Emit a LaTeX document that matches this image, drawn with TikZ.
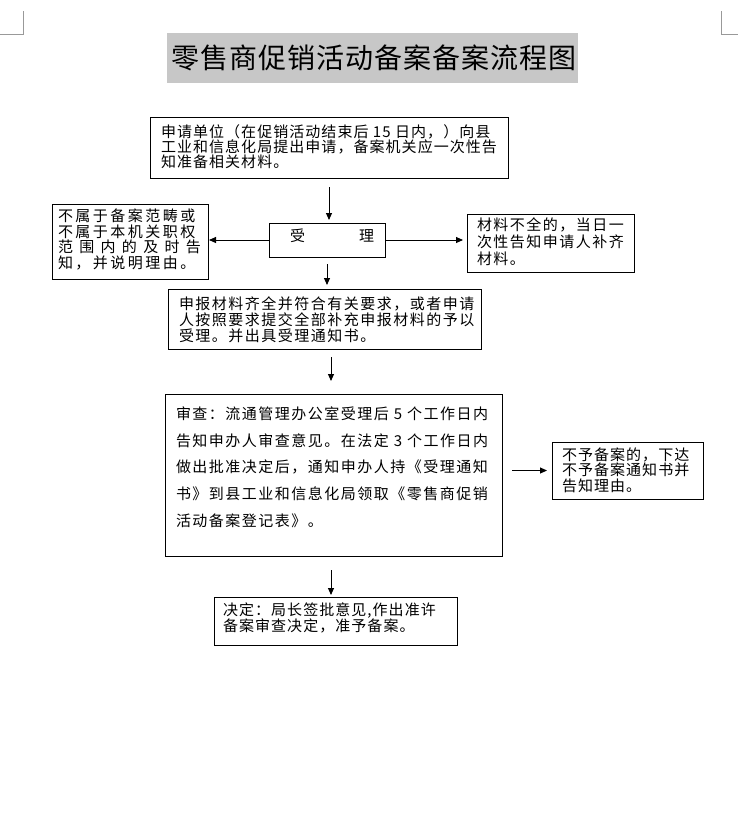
\documentclass[tikz,border=0pt]{standalone}
\usepackage{fontspec}
\setmainfont{Noto Sans CJK SC}
\newfontfamily\fA[LetterSpace=7]{Noto Sans CJK SC}
\newfontfamily\fB[LetterSpace=10]{Noto Sans CJK SC}
\newfontfamily\fC[LetterSpace=16.5]{Noto Sans CJK SC}
\newfontfamily\fT[LetterSpace=3.5]{Noto Sans CJK SC}
\usetikzlibrary{arrows.meta,calc}
% width, height, pad left, pad top, line skip, font, content
\newcommand{\bt}[7]{\begin{minipage}[t][#2][t]{#1}\raggedright\leftskip=#3\relax\fontsize{15}{#5}#6\selectfont\vspace*{#4}#7\end{minipage}}
\tikzset{
  bx/.style={draw, line width=0.9pt, inner sep=0pt, outer sep=0pt, anchor=north west},
  arr/.style={line width=0.9pt, -{Triangle[length=7pt,width=6pt]}},
  crop/.style={draw=black!40, line width=1pt}
}
\begin{document}
\begin{tikzpicture}[x=1pt,y=-1pt]
\useasboundingbox (0,0) rectangle (738,833);
% crop marks
\draw[crop] (23,11) -- (23,34) -- (0,34);
\draw[crop] (721,11) -- (721,34) -- (738,34);
% title
\node[fill=black!22, minimum width=411pt, minimum height=50pt, inner sep=0pt, anchor=north west] (title) at (167,33)
  {\hspace*{2pt}\fontsize{28}{30}\fT\selectfont 零售商促销活动备案备案流程图};
% boxes
\node[bx] (b1) at (150,117) {\bt{358pt}{61pt}{11pt}{7.5pt}{15pt}{\fA}{申请单位（在促销活动结束后 15 日内，）向县\\工业和信息化局提出申请，备案机关应一次性告\\知准备相关材料。}};
\node[bx] (b2) at (269,223) {\bt{116pt}{34pt}{21pt}{6pt}{15pt}{\fA}{受\hspace{54pt}理}};
\node[bx] (bL) at (52,204) {\bt{156pt}{75pt}{6pt}{5pt}{15.6pt}{\fC}{不属于备案范畴或\\不属于本机关职权\\\makebox[143pt][s]{范\hfill 围\hfill 内\hfill 的\hfill 及\hfill 时\hfill 告}\\知，并说明理由。}};
\node[bx] (bR) at (467,214) {\bt{167pt}{58pt}{10pt}{3.5pt}{17pt}{\fB}{材料不全的，当日一\\次性告知申请人补齐\\材料。}};
\node[bx] (b3) at (168,289) {\bt{313pt}{60pt}{11pt}{7.5pt}{16pt}{\fB}{申报材料齐全并符合有关要求，或者申请\\人按照要求提交全部补充申报材料的予以\\受理。并出具受理通知书。}};
\node[bx] (b4) at (165,394) {\bt{337pt}{162pt}{11pt}{12.5pt}{26.75pt}{\fB}{审查：流通管理办公室受理后 5 个工作日内\\告知申办人审查意见。在法定 3 个工作日内\\做出批准决定后，通知申办人持《受理通知\\书》到县工业和信息化局领取《零售商促销\\活动备案登记表》。}};
\node[bx] (b5) at (552,442) {\bt{151pt}{57pt}{10pt}{5.5pt}{15.5pt}{\fA}{不予备案的，下达\\不予备案通知书并\\告知理由。}};
\node[bx] (b6) at (214,597) {\bt{243pt}{48pt}{9pt}{5.5pt}{16.5pt}{\fA}{决定：局长签批意见,作出准许\\备案审查决定，准予备案。}};
% connectors
\draw[arr, shorten <=9pt, shorten >=3pt] (b1.south) -- (b1.south |- b2.north);
\draw[arr, shorten <=7pt, shorten >=4pt] (b2.south) -- (b2.south |- b3.north);
\draw[arr, shorten >=1pt] (b2.west) -- (b2.west -| bL.east);
\draw[arr, shorten >=4pt] (b2.east) -- (b2.east -| bR.west);
\draw[arr, shorten <=8pt, shorten >=13pt] ([xshift=6.5pt]b3.south) -- ([xshift=6.5pt]b3.south |- b4.north);
\draw[arr, shorten <=10pt, shorten >=5pt] (b4.east |- b5.west) -- (b5.west);
\draw[arr, shorten <=14pt, shorten >=2pt] ([xshift=-2.5pt]b4.south) -- ([xshift=-2.5pt]b4.south |- b6.north);
\end{tikzpicture}
\end{document}
